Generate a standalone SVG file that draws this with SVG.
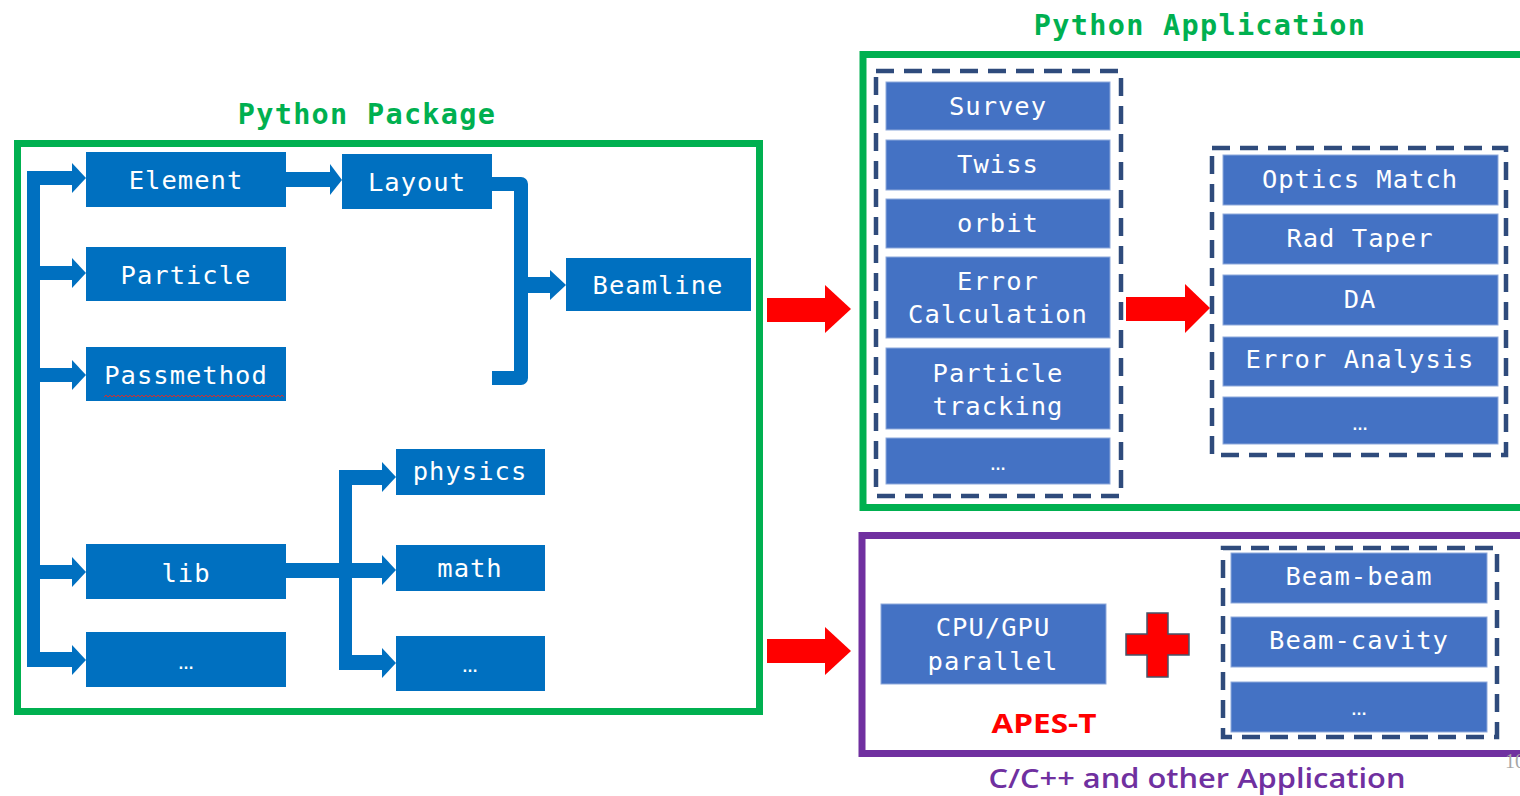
<svg xmlns="http://www.w3.org/2000/svg" width="1520" height="796" viewBox="0 0 1520 796">
<style>
.pk{fill:#0070C0}
.ap{fill:#4472C4;stroke:#8EA9DB;stroke-width:1}
.t{font-family:"DejaVu Sans Mono","Liberation Mono",monospace;font-size:25.5px;letter-spacing:1px;fill:#fff;text-anchor:middle}
.dots{font-family:"Liberation Sans",sans-serif;font-size:16px;font-weight:bold;fill:#fff;text-anchor:middle}
.title{font-family:"DejaVu Sans Mono","Liberation Mono",monospace;font-size:28.5px;letter-spacing:1.3px;font-weight:bold;fill:#00B050;text-anchor:middle}
.dash{fill:none;stroke:#2F4B7C;stroke-width:4.5;stroke-dasharray:18 10}
.arr{fill:#0070C0}
.red{fill:#FF0000}
</style>
<rect width="1520" height="796" fill="#fff"/>

<g id="frames">
<rect x="17.5" y="143.5" width="742" height="568" fill="none" stroke="#00B050" stroke-width="7"/>
<rect x="863" y="54.5" width="720" height="453" fill="none" stroke="#00B050" stroke-width="7"/>
<rect x="862" y="535.5" width="720" height="218" fill="none" stroke="#7030A0" stroke-width="7"/>
<rect class="dash" x="876" y="71" width="245" height="425"/>
<rect class="dash" x="1212" y="148" width="294" height="307"/>
<rect class="dash" x="1223" y="548" width="274" height="189"/>
</g>

<g id="titles">
<text class="title" x="367" y="124">Python Package</text>
<text class="title" x="1200" y="35">Python Application</text>
<text x="1044" y="733" font-family="'Open Sans','Liberation Sans',sans-serif" font-size="27" font-weight="bold" fill="#FF0000" text-anchor="middle" textLength="105" lengthAdjust="spacingAndGlyphs">APES-T</text>
<text x="1197" y="788" font-family="'Open Sans','Liberation Sans',sans-serif" font-size="27" font-weight="600" fill="#7030A0" text-anchor="middle" textLength="417" lengthAdjust="spacingAndGlyphs">C/C++ and other Application</text>
<text x="1505" y="768" font-family="'Liberation Serif',serif" font-size="20" fill="#A6A6A6">10</text>
</g>

<g id="connectors">
<rect class="arr" x="27" y="171" width="13" height="496"/>
<rect class="arr" x="27" y="171" width="46" height="14"/>
<polygon class="arr" points="72,163 86,178 72,193"/>
<rect class="arr" x="27" y="266" width="46" height="14"/>
<polygon class="arr" points="72,258 86,273 72,288"/>
<rect class="arr" x="27" y="368" width="46" height="14"/>
<polygon class="arr" points="72,360 86,375 72,390"/>
<rect class="arr" x="27" y="565" width="46" height="14"/>
<polygon class="arr" points="72,557 86,572 72,587"/>
<rect class="arr" x="27" y="652" width="46" height="15"/>
<polygon class="arr" points="72,645 86,660 72,675"/>
<rect class="arr" x="286" y="172" width="45" height="15"/>
<polygon class="arr" points="330,164 342,180 330,195"/>
<path d="M492,184 H521 V378 H492" fill="none" stroke="#0070C0" stroke-width="14" stroke-linejoin="round"/>
<rect class="arr" x="521" y="277" width="30" height="16"/>
<polygon class="arr" points="550,270 566,285 550,300"/>
<rect class="arr" x="286" y="563" width="60" height="15"/>
<rect class="arr" x="339" y="470" width="13" height="200"/>
<rect class="arr" x="339" y="470" width="44" height="15"/>
<polygon class="arr" points="382,462 396,477 382,492"/>
<rect class="arr" x="346" y="563" width="37" height="15"/>
<polygon class="arr" points="382,555 396,570 382,585"/>
<rect class="arr" x="339" y="655" width="44" height="15"/>
<polygon class="arr" points="382,648 396,663 382,678"/>
<rect class="red" x="767" y="298" width="59" height="24"/>
<polygon class="red" points="825,285 851,309 825,333"/>
<rect class="red" x="767" y="639" width="59" height="24"/>
<polygon class="red" points="825,627 851,651 825,675"/>
<rect class="red" x="1126" y="297" width="60" height="24"/>
<polygon class="red" points="1185,284 1210,308 1185,333"/>
</g>

<g id="n-element"><rect class="pk" x="86" y="152" width="200" height="55"/><text class="t" x="186" y="189">Element</text></g>
<g id="n-particle"><rect class="pk" x="86" y="247" width="200" height="54"/><text class="t" x="186" y="284">Particle</text></g>
<g id="n-passmethod"><rect class="pk" x="86" y="347" width="200" height="54"/><text class="t" x="186" y="384">Passmethod</text>
<path d="M104,397 l2,-2 l2,2 l2,-2 l2,2 l2,-2 l2,2 l2,-2 l2,2 l2,-2 l2,2 l2,-2 l2,2 l2,-2 l2,2 l2,-2 l2,2 l2,-2 l2,2 l2,-2 l2,2 l2,-2 l2,2 l2,-2 l2,2 l2,-2 l2,2 l2,-2 l2,2 l2,-2 l2,2 l2,-2 l2,2 l2,-2 l2,2 l2,-2 l2,2 l2,-2 l2,2 l2,-2 l2,2 l2,-2 l2,2 l2,-2 l2,2 l2,-2 l2,2 l2,-2 l2,2 l2,-2 l2,2 l2,-2 l2,2 l2,-2 l2,2 l2,-2 l2,2 l2,-2 l2,2 l2,-2 l2,2 l2,-2 l2,2 l2,-2 l2,2 l2,-2 l2,2 l2,-2 l2,2 l2,-2 l2,2 l2,-2 l2,2 l2,-2 l2,2 l2,-2 l2,2 l2,-2 l2,2 l2,-2 l2,2 l2,-2 l2,2 l2,-2 l2,2 l2,-2 l2,2 l2,-2 l2,2 l2,-2 l2,2" fill="none" stroke="#D03030" stroke-width="1"/></g>
<g id="n-lib"><rect class="pk" x="86" y="544" width="200" height="55"/><text class="t" x="186" y="582">lib</text></g>
<g id="n-more1"><rect class="pk" x="86" y="632" width="200" height="55"/><text class="dots" x="186" y="669">…</text></g>
<g id="n-layout"><rect class="pk" x="342" y="154" width="150" height="55"/><text class="t" x="417" y="191">Layout</text></g>
<g id="n-beamline"><rect class="pk" x="566" y="258" width="185" height="53"/><text class="t" x="658" y="294">Beamline</text></g>
<g id="n-physics"><rect class="pk" x="396" y="449" width="149" height="46"/><text class="t" x="470" y="480">physics</text></g>
<g id="n-math"><rect class="pk" x="396" y="545" width="149" height="46"/><text class="t" x="470" y="577">math</text></g>
<g id="n-more2"><rect class="pk" x="396" y="636" width="149" height="55"/><text class="dots" x="470" y="672">…</text></g>

<g id="n-survey"><rect class="ap" x="886" y="82" width="224" height="48"/><text class="t" x="998" y="115">Survey</text></g>
<g id="n-twiss"><rect class="ap" x="886" y="140" width="224" height="50"/><text class="t" x="998" y="173">Twiss</text></g>
<g id="n-orbit"><rect class="ap" x="886" y="199" width="224" height="49"/><text class="t" x="998" y="232">orbit</text></g>
<g id="n-errcalc"><rect class="ap" x="886" y="257" width="224" height="81"/><text class="t" x="998" y="290">Error</text><text class="t" x="998" y="323">Calculation</text></g>
<g id="n-tracking"><rect class="ap" x="886" y="348" width="224" height="81"/><text class="t" x="998" y="382">Particle</text><text class="t" x="998" y="415">tracking</text></g>
<g id="n-more3"><rect class="ap" x="886" y="438" width="224" height="46"/><text class="dots" x="998" y="470">…</text></g>

<g id="n-optics"><rect class="ap" x="1223" y="155" width="275" height="50"/><text class="t" x="1360" y="188">Optics Match</text></g>
<g id="n-radtaper"><rect class="ap" x="1223" y="214" width="275" height="50"/><text class="t" x="1360" y="247">Rad Taper</text></g>
<g id="n-da"><rect class="ap" x="1223" y="275" width="275" height="50"/><text class="t" x="1360" y="308">DA</text></g>
<g id="n-erranal"><rect class="ap" x="1223" y="337" width="275" height="49"/><text class="t" x="1360" y="368">Error Analysis</text></g>
<g id="n-more4"><rect class="ap" x="1223" y="397" width="275" height="47"/><text class="dots" x="1360" y="430">…</text></g>

<g id="n-cpugpu"><rect class="ap" x="881" y="604" width="225" height="80"/><text class="t" x="993" y="636">CPU/GPU</text><text class="t" x="993" y="670">parallel</text></g>
<g id="n-plus"><polygon points="1147,613 1168,613 1168,634 1189,634 1189,655 1168,655 1168,677 1147,677 1147,655 1126,655 1126,634 1147,634" fill="#FF0000" stroke="#44546A" stroke-width="1.5"/></g>
<g id="n-beambeam"><rect class="ap" x="1231" y="553" width="256" height="50"/><text class="t" x="1359" y="585">Beam-beam</text></g>
<g id="n-beamcav"><rect class="ap" x="1231" y="617" width="256" height="50"/><text class="t" x="1359" y="649">Beam-cavity</text></g>
<g id="n-more5"><rect class="ap" x="1231" y="682" width="256" height="50"/><text class="dots" x="1359" y="715">…</text></g>
</svg>
